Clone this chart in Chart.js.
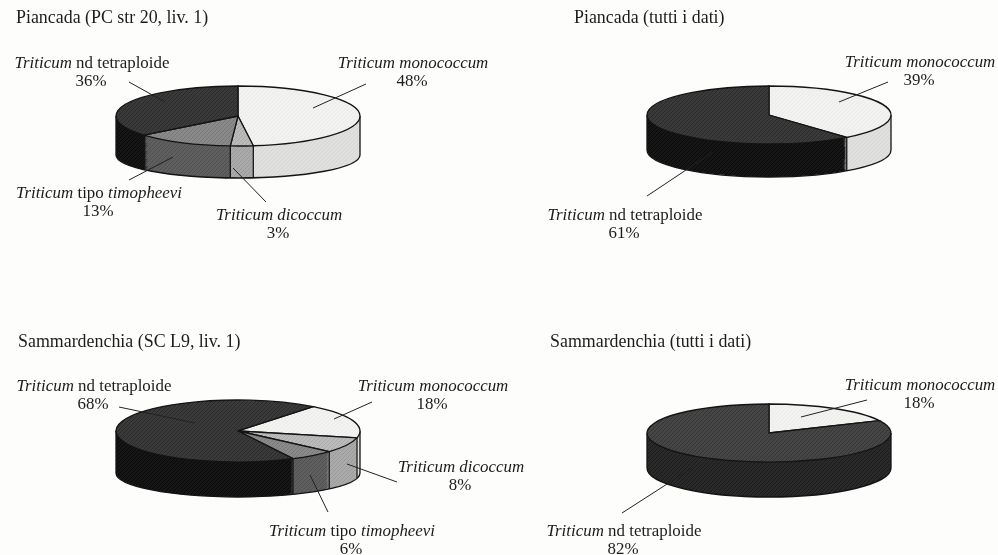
<!DOCTYPE html>
<html lang="it">
<head>
<meta charset="utf-8">
<script src="https://cdn.jsdelivr.net/npm/chart.js@4"></script>
<style>
html,body{margin:0;padding:0;background:#fdfdfc;}
#page{position:relative;width:998px;height:555px;overflow:hidden;font-family:"Liberation Serif",serif;color:#1c1c1c;}
canvas{position:absolute;}
svg{position:absolute;left:0;top:0;}
.t{position:absolute;font-size:16.9px;line-height:18px;white-space:nowrap;}
.h{font-size:17.9px;}
.c{transform:translateX(-50%);}
</style>
</head>
<body>
<div id="page"></div>
<script>
// Values (percent), clockwise from each pie's starting angle
const piancadaLiv1Categories = ["monococcum", "dicoccum", "timopheevi", "tetraploide"];
const piancadaLiv1Values = [48, 3, 13, 36];
const piancadaAllCategories = ["monococcum", "tetraploide"];
const piancadaAllValues = [39, 61];
const sammardenchiaLiv1Categories = ["monococcum", "dicoccum", "timopheevi", "tetraploide"];
const sammardenchiaLiv1Values = [18, 8, 6, 68];
const sammardenchiaAllCategories = ["monococcum", "tetraploide"];
const sammardenchiaAllValues = [18, 82];

const titles = [
  ["Piancada (PC str 20, liv. 1)", 16, 17],
  ["Piancada (tutti i dati)", 574, 17],
  ["Sammardenchia (SC L9, liv. 1)", 18, 341],
  ["Sammardenchia (tutti i dati)", 550, 341]
];
const labelMarkup = {
  monococcum: "<i>Triticum monococcum</i>",
  dicoccum: "<i>Triticum dicoccum</i>",
  timopheevi: "<i>Triticum</i> tipo <i>timopheevi</i>",
  tetraploide: "<i>Triticum</i> nd tetraploide"
};

// Styling: [top colour, hatch colour, rim colour, rim hatch colour]
const styleLiv = {
  monococcum: ["#f2f2f1", "#ebebea", "#e0e0df", "#d6d6d5"],
  dicoccum: ["#bbbbbb", "#aaaaaa", "#aaaaaa", "#9a9a9a"],
  timopheevi: ["#8a8a8a", "#787878", "#5f5f5f", "#505050"],
  tetraploide: ["#3a3a3a", "#2a2a2a", "#161616", "#080808"]
};
const styleAll = {
  monococcum: styleLiv.monococcum,
  tetraploide: ["#464646", "#343434", "#2a2a2a", "#1a1a1a"]
};

// Layout of each pie: centre, top ellipse tilt, lower ellipse, labels and leaders
const pies = [
  { cats: piancadaLiv1Categories, vals: piancadaLiv1Values, rot: 0, cx: 237.5, cy: 116, ry: 30, lowCy: 155, lowRy: 23, styles: styleLiv,
    labels: { tetraploide: [92, 63], monococcum: [413, 63], timopheevi: [99, 193], dicoccum: [279, 215] },
    leaders: [[129,82,165,102],[366,84,313,108],[129,180,173,157],[266,202,233,168]] },
  { cats: piancadaAllCategories, vals: piancadaAllValues, rot: 0, cx: 768.5, cy: 115, ry: 29, lowCy: 150, lowRy: 27, styles: { monococcum: styleLiv.monococcum, tetraploide: styleLiv.tetraploide },
    labels: { monococcum: [920, 62], tetraploide: [625, 215] },
    leaders: [[888,82,839,102],[647,196,713,152]] },
  { cats: sammardenchiaLiv1Categories, vals: sammardenchiaLiv1Values, rot: 38, cx: 238, cy: 431, ry: 31, lowCy: 473, lowRy: 24, styles: styleLiv,
    labels: { tetraploide: [94, 386], monococcum: [433, 386], dicoccum: [461, 467], timopheevi: [352, 531] },
    leaders: [[119,407,195,423],[372,402,334,419],[397,482,347,464],[328,512,310,475]] },
  { cats: sammardenchiaAllCategories, vals: sammardenchiaAllValues, rot: 0, cx: 769, cy: 433, ry: 29, lowCy: 468, lowRy: 29, styles: styleAll,
    labels: { monococcum: [920, 385], tetraploide: [624, 531] },
    leaders: [[867,400,801,417],[622,513,692,468]] }
];

const RADIUS = 122, BOX = 264;
const page = document.getElementById("page");

function hatch(base, line) {
  const c = document.createElement("canvas");
  c.width = c.height = 4;
  const g = c.getContext("2d");
  g.fillStyle = base; g.fillRect(0, 0, 4, 4);
  g.strokeStyle = line; g.lineWidth = 1;
  g.beginPath(); g.moveTo(0, 4); g.lineTo(4, 0); g.moveTo(-1, 1); g.lineTo(1, -1); g.moveTo(3, 5); g.lineTo(5, 3); g.stroke();
  return g.createPattern(c, "repeat");
}

// Draws the library's arc elements as a tilted disc with a rim
const tiltPlugin = {
  id: "tilt",
  beforeDatasetsDraw(chart, args, opts) {
    const ctx = chart.ctx, arcs = chart.getDatasetMeta(0).data;
    const p = opts.pie;
    const dy = p.lowCy - p.cy;
    const wedge = (a, y, ry) => {
      ctx.beginPath();
      ctx.moveTo(a.x, y);
      ctx.ellipse(a.x, y, a.outerRadius, ry, 0, a.startAngle, a.endAngle);
      ctx.closePath();
    };
    const rims = opts.rims;
    // rim: stacked copies of the arcs, lower ellipse upward
    for (let s = Math.ceil(dy); s >= 1; s--) {
      const t = s / dy;
      arcs.forEach((a, i) => {
        ctx.fillStyle = rims[i];
        wedge(a, a.y + dy * t, p.ry + (p.lowRy - p.ry) * t);
        ctx.fill();
      });
    }
    ctx.strokeStyle = "#141414";
    ctx.lineWidth = 1.3;
    const a0 = arcs[0];
    // lower outline and side edges
    ctx.beginPath();
    ctx.moveTo(a0.x - RADIUS, a0.y);
    ctx.lineTo(a0.x - RADIUS, a0.y + dy);
    ctx.ellipse(a0.x, a0.y + dy, RADIUS, p.lowRy, 0, Math.PI, 0, true);
    ctx.lineTo(a0.x + RADIUS, a0.y);
    ctx.stroke();
    // vertical edges at slice boundaries on the visible front
    arcs.forEach(a => {
      const s = Math.sin(a.startAngle);
      if (s > 0) {
        const x = a.x + a.outerRadius * Math.cos(a.startAngle);
        ctx.beginPath();
        ctx.moveTo(x, a.y + p.ry * s);
        ctx.lineTo(x, a.y + dy + p.lowRy * s);
        ctx.stroke();
      }
    });
    // top face
    arcs.forEach(a => {
      ctx.fillStyle = a.options.backgroundColor;
      wedge(a, a.y, p.ry);
      ctx.fill();
      ctx.stroke();
    });
    return false;
  }
};

function addText(html, x, y, centred, cls) {
  const d = document.createElement("div");
  d.className = "t" + (centred ? " c" : "") + (cls ? " " + cls : "");
  d.style.left = x + "px";
  d.style.top = (y - 9) + "px";
  d.innerHTML = html;
  page.appendChild(d);
}

pies.forEach(p => {
  const cv = document.createElement("canvas");
  cv.width = BOX; cv.height = BOX;
  cv.style.cssText = "left:" + (p.cx - BOX / 2) + "px;top:" + (p.cy - BOX / 2) + "px;width:" + BOX + "px;height:" + BOX + "px;";
  page.appendChild(cv);
  new Chart(cv, {
    type: "pie",
    data: {
      labels: p.cats,
      datasets: [{
        data: p.vals,
        backgroundColor: p.cats.map(k => hatch(p.styles[k][0], p.styles[k][1])),
        borderWidth: 0
      }]
    },
    options: {
      responsive: false,
      animation: false,
      rotation: p.rot,
      radius: RADIUS,
      layout: { padding: 0 },
      events: [],
      plugins: {
        legend: { display: false },
        tooltip: { enabled: false },
        tilt: { pie: p, rims: p.cats.map(k => hatch(p.styles[k][2], p.styles[k][3])) }
      }
    },
    plugins: [tiltPlugin]
  });
  p.cats.forEach((k, i) => {
    const [x, y] = p.labels[k];
    addText(labelMarkup[k], x, y, true);
    addText(p.vals[i] + "%", x - 1, y + 18, true);
  });
});

// Leader lines above the pies
const NS = "http://www.w3.org/2000/svg";
const svg = document.createElementNS(NS, "svg");
svg.setAttribute("width", 998); svg.setAttribute("height", 555);
pies.forEach(p => p.leaders.forEach(l => {
  const e = document.createElementNS(NS, "line");
  e.setAttribute("x1", l[0]); e.setAttribute("y1", l[1]);
  e.setAttribute("x2", l[2]); e.setAttribute("y2", l[3]);
  e.setAttribute("stroke", "#222"); e.setAttribute("stroke-width", "1");
  svg.appendChild(e);
}));
page.appendChild(svg);

titles.forEach(t => addText(t[0], t[1], t[2], false, "h"));
</script>
</body>
</html>
